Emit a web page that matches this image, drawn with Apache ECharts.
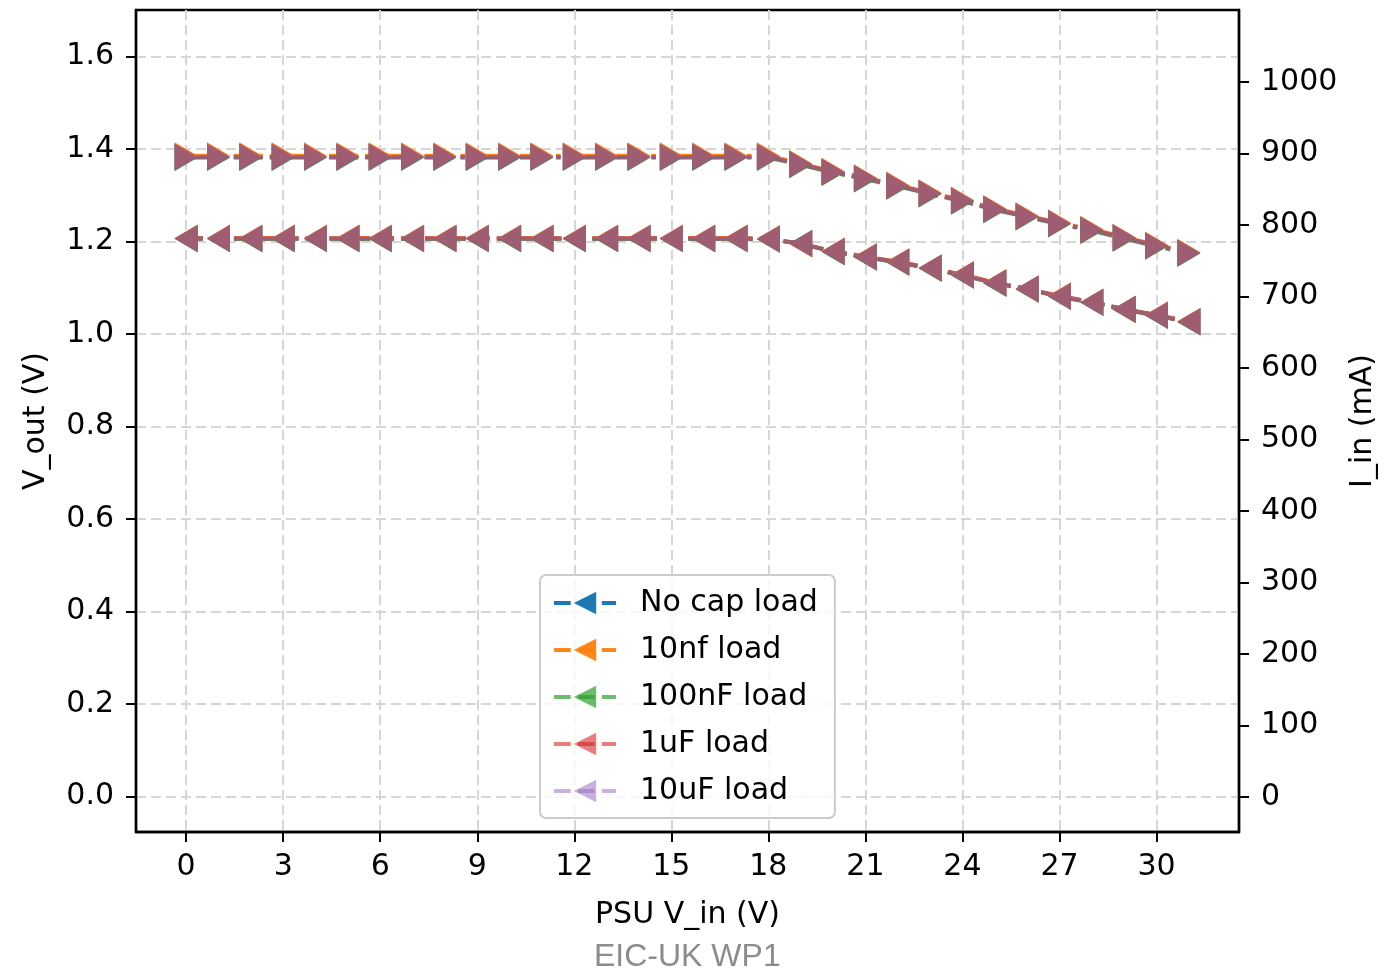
<!DOCTYPE html>
<html>
<head>
<meta charset="utf-8">
<script src="https://cdn.jsdelivr.net/npm/echarts@6/dist/echarts.min.js"></script>
<style>
html,body{margin:0;padding:0;background:#fff;}
#chart{width:1386px;height:969px;}
</style>
</head>
<body>
<div id="chart"></div>
<script>
// ---- data ----
const xValues = [0,1,2,3,4,5,6,7,8,9,10,11,12,13,14,15,16,17,18,19,20,21,22,23,24,25,26,27,28,29,30,31];
const loadNames = ['No cap load','10nf load','100nF load','1uF load','10uF load'];
// V_out (V), left axis
const voutNoCap = [1.206,1.206,1.206,1.206,1.206,1.206,1.206,1.206,1.206,1.206,1.206,1.206,1.206,1.206,1.206,1.206,1.206,1.206,1.205,1.195,1.178,1.166,1.155,1.142,1.127,1.110,1.097,1.081,1.068,1.053,1.040,1.026];
const vout10nF  = [1.207,1.207,1.207,1.207,1.207,1.207,1.207,1.207,1.207,1.207,1.207,1.207,1.207,1.207,1.207,1.207,1.207,1.207,1.206,1.194,1.179,1.167,1.156,1.142,1.128,1.111,1.097,1.082,1.069,1.053,1.041,1.027];
const vout100nF = [1.205,1.205,1.205,1.205,1.205,1.205,1.205,1.205,1.205,1.205,1.205,1.205,1.205,1.205,1.205,1.205,1.205,1.205,1.204,1.195,1.177,1.165,1.154,1.141,1.126,1.109,1.096,1.080,1.067,1.052,1.039,1.025];
const vout1uF   = [1.206,1.206,1.206,1.206,1.206,1.206,1.206,1.206,1.206,1.206,1.206,1.206,1.206,1.206,1.206,1.206,1.206,1.206,1.205,1.195,1.178,1.166,1.155,1.142,1.127,1.110,1.097,1.081,1.068,1.053,1.040,1.026];
const vout10uF  = [1.206,1.206,1.206,1.206,1.206,1.206,1.206,1.206,1.206,1.206,1.206,1.206,1.206,1.206,1.206,1.206,1.206,1.206,1.205,1.195,1.178,1.166,1.155,1.142,1.127,1.110,1.097,1.081,1.068,1.053,1.040,1.026];
// I_in (mA), right axis
const iinNoCap = [895,895,895,895,895,895,895,895,895,895,895,895,895,895,895,895,895,895,895,885,874,865,855,844,834,822,812,802,793,782,771,761];
const iin10nF  = [897,897,897,897,897,897,897,897,897,897,897,897,897,897,897,897,897,897,897,886,875,866,856,845,835,823,813,803,794,783,772,762];
const iin100nF = [894,894,894,894,894,894,894,894,894,894,894,894,894,894,894,894,894,894,894,884,873,864,854,843,833,821,811,801,792,781,770,760];
const iin1uF   = [895,895,895,895,895,895,895,895,895,895,895,895,895,895,895,895,895,895,895,885,874,865,855,844,834,822,812,802,793,782,771,761];
const iin10uF  = [895,895,895,895,895,895,895,895,895,895,895,895,895,895,895,895,895,895,895,885,874,865,855,844,834,822,812,802,793,782,771,761];
const xTicks = [0,3,6,9,12,15,18,21,24,27,30];
const leftTicks = [0,0.2,0.4,0.6,0.8,1.0,1.2,1.4,1.6];
const rightTicks = [0,100,200,300,400,500,600,700,800,900,1000];

// ---- styles ----
const colors = ['#1f77b4','#ff7f0e','#2ca02c','#d62728','#9467bd'];
const alphas = [1.0,0.95,0.7,0.6,0.5];
const voutSets = [voutNoCap,vout10nF,vout100nF,vout1uF,vout10uF];
const iinSets = [iinNoCap,iin10nF,iin100nF,iin1uF,iin10uF];
const FONT = 'DejaVu Sans';

function pairs(ys){ return xValues.map((x,i)=>[x,ys[i]]); }

const series = [];
voutSets.forEach((ys,k)=>{
  series.push({
    name: loadNames[k], type:'line', xAxisIndex:0, yAxisIndex:0,
    data: pairs(ys),
    symbol:'triangle', symbolSize:[27,23], symbolRotate:90, showAllSymbol:true,
    itemStyle:{color:colors[k], opacity:alphas[k]},
    lineStyle:{color:colors[k], width:4, opacity:alphas[k], type:[16.7,7.2]},
    emphasis:{disabled:true}, animation:false
  });
});
iinSets.forEach((ys,k)=>{
  series.push({
    name: loadNames[k]+' I_in', type:'line', xAxisIndex:0, yAxisIndex:1,
    data: pairs(ys),
    symbol:'triangle', symbolSize:[27,23], symbolRotate:-90, showAllSymbol:true,
    itemStyle:{color:colors[k], opacity:alphas[k]},
    lineStyle:{color:colors[k], width:4, opacity:alphas[k], type:[28.8,7.2,4.5,7.2]},
    emphasis:{disabled:true}, animation:false
  });
});

const gridLine = {show:true, lineStyle:{color:'#d6d6d6', width:2, type:[10,5]}};
const tickStyle = {show:true, inside:false, length:10, lineStyle:{color:'#000', width:2}};
const labelBase = {color:'#000', fontFamily:FONT, fontSize:30};
const axisLineStyle = {show:true, onZero:false, lineStyle:{color:'#000', width:2.4}};

const option = {
  backgroundColor:'#fff',
  animation:false,
  grid:{left:136, right:147, top:10, bottom:137, outerBoundsMode:'none', containLabel:false,
        show:true, borderColor:'#000', borderWidth:2.4, backgroundColor:'transparent'},
  xAxis:[{
    type:'value', min:-1.55, max:32.55,
    axisLine:axisLineStyle,
    axisTick:Object.assign({customValues:xTicks}, tickStyle),
    axisLabel:Object.assign({customValues:xTicks, margin:20}, labelBase),
    splitLine:gridLine,
    name:'PSU V_in (V)', nameLocation:'middle', nameGap:68,
    nameTextStyle:{color:'#000', fontFamily:FONT, fontSize:30}
  }],
  yAxis:[{
    type:'value', min:-0.077, max:1.70, position:'left',
    axisLine:axisLineStyle,
    axisTick:Object.assign({customValues:leftTicks}, tickStyle),
    axisLabel:Object.assign({customValues:leftTicks, margin:22, formatter:v=>v.toFixed(1)}, labelBase),
    splitLine:gridLine,
    name:'V_out (V)', nameLocation:'middle', nameGap:85, nameRotate:90,
    nameTextStyle:{color:'#000', fontFamily:FONT, fontSize:30}
  },{
    type:'value', min:-49, max:1100.7, position:'right',
    axisLine:axisLineStyle,
    axisTick:Object.assign({customValues:rightTicks}, tickStyle),
    axisLabel:Object.assign({customValues:rightTicks, margin:22, formatter:v=>String(v)}, labelBase),
    splitLine:{show:false},
    name:'I_in (mA)', nameLocation:'middle', nameGap:103, nameRotate:90,
    nameTextStyle:{color:'#000', fontFamily:FONT, fontSize:30}
  }],
  legend:{
    data: loadNames,
    orient:'vertical', left:540, top:575,
    padding:[13,17,12,12],
    itemWidth:62, itemHeight:28, itemGap:17,
    lineStyle:{width:4},
    backgroundColor:'rgba(255,255,255,0.8)', borderColor:'#cccccc', borderWidth:2, borderRadius:6,
    textStyle:{color:'#000', fontFamily:FONT, fontSize:30, lineHeight:30, padding:[0,0,0,19]},
    selectedMode:false
  },
  graphic:[{
    type:'text', left:594, top:941,
    style:{text:'EIC-UK WP1', fill:'#8c8c8c', font:'32px "Liberation Sans", Arial, sans-serif'}
  }],
  series: series
};
const chart = echarts.init(document.getElementById('chart'), null, {renderer:'canvas'});
chart.setOption(option);
</script>
</body>
</html>
